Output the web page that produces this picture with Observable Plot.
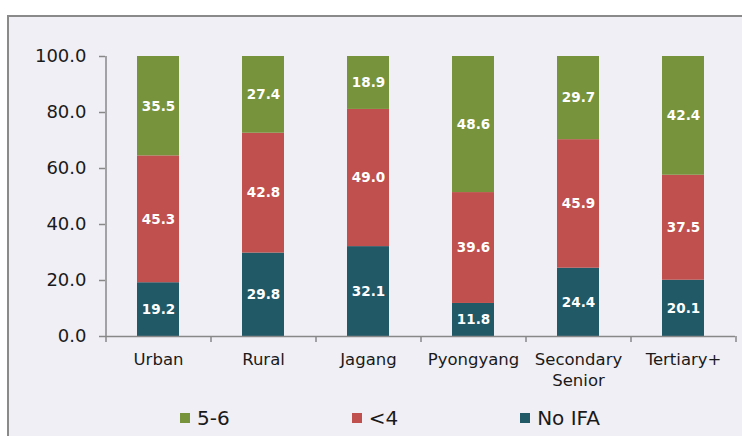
<!DOCTYPE html>
<html>
<head>
<meta charset="utf-8">
<script src="https://cdn.jsdelivr.net/npm/d3@7"></script>
<script src="https://cdn.jsdelivr.net/npm/@observablehq/plot@0.6"></script>
<style>
  html, body { margin: 0; padding: 0; background: #ffffff; overflow: hidden; }
  #wrap { position: relative; width: 742px; height: 436px; overflow: hidden; font-family: "DejaVu Sans", Verdana, sans-serif; }
  #frame { position: absolute; left: 7px; top: 15px; width: 760px; height: 460px; border: 2px solid #8a8a8a; background: #F0EFF5; }
  #chart { position: absolute; left: 0; top: 0; }
  #legend { position: absolute; left: 180px; top: 406px; display: flex; gap: 122px; align-items: center; font-size: 20px; color: #1a1a1a; }
  .item { display: flex; align-items: center; }
  .sw { width: 10px; height: 10px; margin-right: 7px; }
</style>
</head>
<body>
<div id="wrap">
  <div id="frame"></div>
  <div id="chart"></div>
  <div id="legend"></div>
</div>
<script>
const categories = ["Urban", "Rural", "Jagang", "Pyongyang", "Secondary\nSenior", "Tertiary+"];
const series = ["No IFA", "<4", "5-6"];
const noIFA = [19.2, 29.8, 32.1, 11.8, 24.4, 20.1];
const lt4 = [45.3, 42.8, 49.0, 39.6, 45.9, 37.5];
const fiveSix = [35.5, 27.4, 18.9, 48.6, 29.7, 42.4];
const colors = ["#215967", "#C0504D", "#77933C"];
const yTicks = [0, 20, 40, 60, 80, 100];
const legendOrder = ["5-6", "<4", "No IFA"];

const seriesValues = [noIFA, lt4, fiveSix];
const data = [];
series.forEach((s, si) => {
  categories.forEach((c, ci) => {
    data.push({cat: c, series: s, value: seriesValues[si][ci]});
  });
});

const W = 742, H = 400;
const step = (W - 105 - 7) / categories.length;

const plot = Plot.plot({
  width: W,
  height: H,
  marginLeft: 105,
  marginRight: 7,
  marginTop: 56,
  marginBottom: 64,
  style: {background: "transparent", fontFamily: "'DejaVu Sans', Verdana, sans-serif", color: "#1a1a1a", overflow: "visible"},
  x: {domain: categories, paddingInner: 0.6, paddingOuter: 0.3, label: null},
  y: {domain: [0, 100], label: null},
  color: {domain: series, range: colors},
  marks: [
    Plot.barY(data, Plot.stackY({x: "cat", y: "value", fill: "series", order: series})),
    Plot.text(data, Plot.stackY({x: "cat", y: "value", z: "series", order: series, text: d => d.value.toFixed(1), fill: "white", fontWeight: "bold", fontSize: 13.5})),
    Plot.axisY(yTicks, {tickFormat: d => d.toFixed(1), tickSize: 6, tickPadding: 13, fontSize: 18, stroke: "#888", strokeWidth: 1.5, label: null}),
    Plot.axisX(categories, {tickSize: 6, tickFormat: () => "", dx: -step / 2, stroke: "#888", strokeWidth: 1.5, label: null}),
    Plot.axisX([categories[categories.length - 1]], {tickSize: 6, tickFormat: () => "", dx: step / 2, stroke: "#888", strokeWidth: 1.5, label: null}),
    Plot.axisX(categories, {tickSize: 0, tickPadding: 13, fontSize: 16.5, lineHeight: 1.3, label: null}),
    Plot.ruleY([0], {stroke: "#888", strokeWidth: 1.5}),
    Plot.ruleX([categories[0]], {y1: 0, y2: 100, dx: -step / 2, stroke: "#888", strokeWidth: 1.5})
  ]
});
document.getElementById("chart").appendChild(plot);

const legend = document.getElementById("legend");
legendOrder.forEach(s => {
  const item = document.createElement("div");
  item.className = "item";
  const sw = document.createElement("div");
  sw.className = "sw";
  sw.style.background = colors[series.indexOf(s)];
  const t = document.createElement("span");
  t.textContent = s;
  item.appendChild(sw);
  item.appendChild(t);
  legend.appendChild(item);
});
</script>
</body>
</html>
